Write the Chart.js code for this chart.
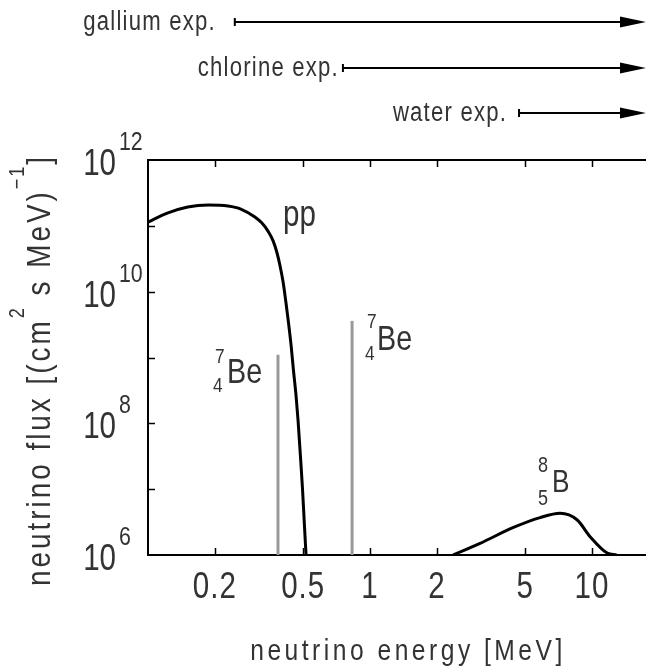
<!DOCTYPE html>
<html>
<head>
<meta charset="utf-8">
<script src="https://cdn.jsdelivr.net/npm/chart.js@4.4.1/dist/chart.umd.min.js"></script>
<style>
  body { margin: 0; background: #fff; }
  #wrap { width: 646px; height: 671px; }
</style>
</head>
<body>
<div id="wrap"><canvas id="chart" width="646" height="671"></canvas></div>
<script>
// pp spectrum: energy [MeV] and flux
const ppEnergy = [0.1, 0.123, 0.151, 0.187, 0.229, 0.262, 0.303, 0.326, 0.347, 0.366, 0.381, 0.393, 0.406,
    0.418, 0.429, 0.441, 0.452, 0.464, 0.474, 0.485, 0.496, 0.505, 0.515];
const ppFlux = [1.14e11, 1.57e11, 1.93e11, 2.07e11, 2.0e11, 1.8e11, 1.36e11, 1.1e11, 8.3e10, 5.9e10, 3.9e10, 2.5e10, 1.4e10,
    6.9e9, 3.45e9, 1.54e9, 6.4e8, 2.7e8, 1.12e8, 3.5e7, 1.07e7, 3.4e6, 1e6];

// 7Be lines
const be7Energy = [0.385, 0.83];
const be7Flux = [1.1e9, 3.6e9];

// 8B spectrum
const b8Energy = [2.37, 3.13, 4.4, 5.83, 7.18, 8.58, 9.8, 11.7, 12.9];
const b8Flux = [1e6, 1.5e6, 2.6e6, 3.7e6, 4.3e6, 3.4e6, 1.9e6, 1.07e6, 1e6];

// axes
const xTicks = [0.2, 0.5, 1, 2, 5, 10];
const xTickLabels = ['0.2', '0.5', '1', '2', '5', '10'];
const yTicks = [1e7, 1e8, 1e9, 1e10, 1e11];
const yLabelExp = [6, 8, 10, 12];

// detector thresholds
const experiments = ['gallium exp.', 'chlorine exp.', 'water exp.'];
const thresholds = [0.246, 0.755, 4.69];

const FAMILY = '"Liberation Sans", Arial, sans-serif';
const SX = 0.82;          // 가로 압축 (condensed 글꼴 흉내)
const TXT = '#333';

function toPoints(xs, ys) {
    return xs.map((x, i) => ({ x: x, y: ys[i] }));
}

function runsWidth(ctx, runs) {
    let w = 0;
    runs.forEach(r => {
        ctx.save();
        ctx.font = r.size + 'px ' + FAMILY;
        ctx.letterSpacing = ((r.ls || 0) / SX) + 'px';
        w += ctx.measureText(r.t).width * SX;
        ctx.restore();
    });
    return w;
}

// 텍스트 + 위첨자 그리기 (left aligned)
function drawRuns(ctx, runs, x, y) {
    runs.forEach(r => {
        ctx.save();
        ctx.font = r.size + 'px ' + FAMILY;
        ctx.letterSpacing = ((r.ls || 0) / SX) + 'px';
        ctx.textAlign = 'left';
        ctx.translate(x, y + (r.dy || 0));
        ctx.scale(SX, 1);
        ctx.fillText(r.t, 0, 0);
        x += ctx.measureText(r.t).width * SX;
        ctx.restore();
    });
}

function text(ctx, t, x, y, size, align, ls) {
    const run = [{ t: t, size: size, ls: ls || 0 }];
    const w = runsWidth(ctx, run);
    let x0 = x;
    if (align === 'center') x0 = x - w / 2;
    if (align === 'right') x0 = x - w;
    drawRuns(ctx, run, x0, y);
}

const decor = {
    id: 'decor',
    afterDraw(chart) {
        const ctx = chart.ctx;
        const { left, top, right, bottom } = chart.chartArea;
        const xs = chart.scales.x;
        const ys = chart.scales.y;
        ctx.save();

        // top frame line
        ctx.strokeStyle = '#000';
        ctx.lineWidth = 2;
        ctx.beginPath();
        ctx.moveTo(left, top);
        ctx.lineTo(right, top);
        ctx.stroke();

        // inward ticks
        ctx.lineWidth = 1.5;
        ctx.beginPath();
        xTicks.forEach(v => {
            const px = Math.round(xs.getPixelForValue(v)) + 0.5;
            ctx.moveTo(px, bottom);
            ctx.lineTo(px, bottom - 7);
            ctx.moveTo(px, top);
            ctx.lineTo(px, top + 7);
        });
        yTicks.forEach(v => {
            const py = Math.round(ys.getPixelForValue(v)) + 0.5;
            ctx.moveTo(left, py);
            ctx.lineTo(left + 7, py);
        });
        ctx.stroke();

        ctx.fillStyle = TXT;
        ctx.textBaseline = 'alphabetic';

        // x tick labels
        xTicks.forEach((v, i) => {
            text(ctx, xTickLabels[i], xs.getPixelForValue(v), bottom + 43, 36, 'center', 1);
        });

        // y tick labels 10^n
        yLabelExp.forEach(e => {
            const py = ys.getPixelForValue(Math.pow(10, e));
            text(ctx, '10', 116, py + 15, 36, 'right', 0);
            text(ctx, String(e), 119, py - 10, 26, 'left', 0);
        });

        // x title
        text(ctx, 'neutrino energy [MeV]', 408, 660, 30, 'center', 3.5);

        // y title (rotated)
        const yt = [
            { t: 'neutrino flux [(cm', size: 34, ls: 3 },
            { t: '2', size: 22, dy: -26, ls: 2 },
            { t: ' s MeV)', size: 34, ls: 3 },
            { t: '\u22121', size: 22, dy: -26, ls: 2 },
            { t: ']', size: 34, ls: 3 }
        ];
        const yw = runsWidth(ctx, yt);
        ctx.save();
        ctx.translate(50, 370);
        ctx.rotate(-Math.PI / 2);
        drawRuns(ctx, yt, -yw / 2, 0);
        ctx.restore();

        // curve labels
        text(ctx, 'pp', 283, 226, 36, 'left', 0);
        text(ctx, 'Be', 227, 383, 35, 'left', 0);
        text(ctx, 'Be', 377, 350, 35, 'left', 0);
        text(ctx, '7', 215, 363, 21, 'left', 0);
        text(ctx, '4', 213, 392, 21, 'left', 0);
        text(ctx, '7', 367, 328, 21, 'left', 0);
        text(ctx, '4', 365, 360, 21, 'left', 0);
        text(ctx, 'B', 552, 492, 32, 'left', 0);
        text(ctx, '8', 538, 472, 22, 'left', 0);
        text(ctx, '5', 538, 505, 22, 'left', 0);

        // experiment thresholds (arrows)
        const rowY = [22, 68, 113];
        const gaps = [19, 4, 12];
        const xEnd = chart.width;
        experiments.forEach((name, i) => {
            const y = rowY[i];
            const x0 = xs.getPixelForValue(thresholds[i]);
            ctx.strokeStyle = '#000';
            ctx.fillStyle = '#000';
            ctx.lineWidth = 2;
            ctx.beginPath();
            ctx.moveTo(x0, y);
            ctx.lineTo(xEnd - 20, y);
            ctx.moveTo(x0, y - 4);
            ctx.lineTo(x0, y + 4);
            ctx.stroke();
            ctx.beginPath();
            ctx.moveTo(xEnd, y);
            ctx.lineTo(xEnd - 26, y - 5.5);
            ctx.lineTo(xEnd - 26, y + 5.5);
            ctx.closePath();
            ctx.fill();

            ctx.fillStyle = TXT;
            text(ctx, name, x0 - gaps[i], y + 8, 27, 'right', 1.2);
        });

        ctx.restore();
    }
};

new Chart(document.getElementById('chart').getContext('2d'), {
    type: 'line',
    data: {
        datasets: [
            {
                label: 'pp',
                data: toPoints(ppEnergy, ppFlux),
                borderColor: '#000',
                borderWidth: 3,
                cubicInterpolationMode: 'monotone',
                pointRadius: 0
            },
            {
                label: '7Be 0.38',
                data: toPoints([be7Energy[0], be7Energy[0]], [1e6, be7Flux[0]]),
                borderColor: '#999',
                borderWidth: 3,
                pointRadius: 0
            },
            {
                label: '7Be 0.86',
                data: toPoints([be7Energy[1], be7Energy[1]], [1e6, be7Flux[1]]),
                borderColor: '#999',
                borderWidth: 3,
                pointRadius: 0
            },
            {
                label: '8B',
                data: toPoints(b8Energy, b8Flux),
                borderColor: '#000',
                borderWidth: 3,
                cubicInterpolationMode: 'monotone',
                pointRadius: 0
            }
        ]
    },
    options: {
        responsive: false,
        animation: false,
        devicePixelRatio: 1,
        layout: { padding: { top: 160, left: 0, right: 0, bottom: 0 } },
        plugins: { legend: { display: false }, tooltip: { enabled: false } },
        scales: {
            x: {
                type: 'logarithmic',
                min: 0.1,
                max: 17.5,
                grid: { display: false },
                border: { display: true, color: '#000', width: 2 },
                ticks: { display: false },
                afterFit(scale) { scale.height = 116; }
            },
            y: {
                type: 'logarithmic',
                min: 1e6,
                max: 1e12,
                grid: { display: false },
                border: { display: true, color: '#000', width: 2 },
                ticks: { display: false },
                afterFit(scale) { scale.width = 148; }
            }
        }
    },
    plugins: [decor]
});
</script>
</body>
</html>
